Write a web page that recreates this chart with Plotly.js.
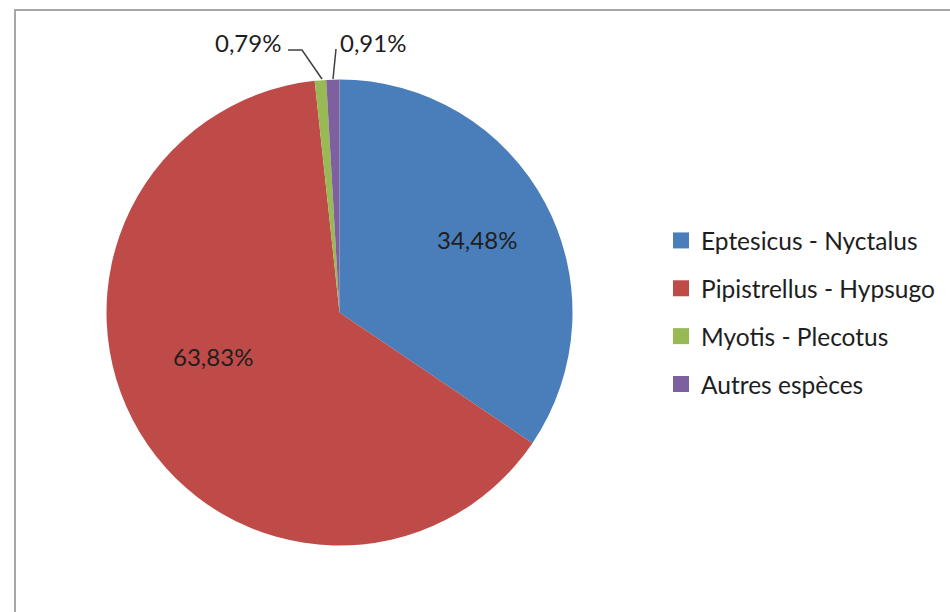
<!DOCTYPE html>
<html>
<head>
<meta charset="utf-8">
<script src="https://cdn.plot.ly/plotly-3.0.1.min.js"></script>
<style>
  html, body { margin: 0; padding: 0; background: #ffffff; }
  #chart { width: 950px; height: 612px; }
</style>
</head>
<body>
<div id="chart"></div>
<script>
// ---- data ----
const categories = ["Eptesicus - Nyctalus", "Pipistrellus - Hypsugo", "Myotis - Plecotus", "Autres espèces"];
const shares = [34.48, 63.83, 0.79, 0.91];
const colors = ["#4a7ebb", "#be4b48", "#98b954", "#7d60a0"];

// ---- helpers (pixel -> paper) ----
const W = 950, H = 612;
const px = v => v / W;
const py = v => 1 - v / H;
const fmt = v => v.toFixed(2).replace('.', ',') + '%';

const FONT = "Lato, 'Open Sans', sans-serif";
const TXT = "#1e1e1e";

const pie = {
  type: 'pie',
  labels: categories,
  values: shares,
  sort: false,
  direction: 'clockwise',
  rotation: 0,
  marker: { colors: colors, line: { width: 0 } },
  textinfo: 'none',
  hoverinfo: 'label+percent',
  showlegend: false,
  domain: { x: [px(106.5), px(572.5)], y: [py(545.5), py(79.5)] }
};

// legend entries (one per category, own group for spacing)
const legendTraces = categories.map((c, i) => ({
  type: 'scatter',
  x: [null], y: [null],
  mode: 'markers',
  name: c,
  legendgroup: 'g' + i,
  marker: { symbol: 'square', size: 16, color: colors[i] },
  hoverinfo: 'skip'
}));

// label positions (text placement only)
const labelPos = [
  [477, 240],
  [213, 356],
  [248, 43],
  [373, 43]
];

const annotations = shares.map((v, i) => ({
  xref: 'paper', yref: 'paper',
  x: px(labelPos[i][0]), y: py(labelPos[i][1]),
  xanchor: 'center', yanchor: 'middle',
  text: fmt(v),
  showarrow: false,
  font: { family: FONT, size: 24, color: TXT }
}));

const shapes = [
  // chart border (clipped on right/bottom)
  { type: 'rect', xref: 'paper', yref: 'paper',
    x0: px(15), y0: py(640), x1: px(990), y1: py(10),
    line: { color: '#a6a6a6', width: 2 }, fillcolor: 'rgba(0,0,0,0)' },
  // leader lines
  { type: 'path', xref: 'paper', yref: 'paper',
    path: `M ${px(288)} ${py(50)} L ${px(302)} ${py(50)} L ${px(322)} ${py(79)}`,
    line: { color: '#404040', width: 1.5 } },
  { type: 'path', xref: 'paper', yref: 'paper',
    path: `M ${px(336)} ${py(49)} L ${px(333)} ${py(79)}`,
    line: { color: '#404040', width: 1.5 } }
];

const layout = {
  width: W, height: H,
  margin: { l: 0, r: 0, t: 0, b: 0 },
  paper_bgcolor: '#ffffff',
  plot_bgcolor: 'rgba(0,0,0,0)',
  xaxis: { visible: false, fixedrange: true },
  yaxis: { visible: false, fixedrange: true },
  showlegend: true,
  legend: {
    x: px(661), y: py(218), xanchor: 'left', yanchor: 'top',
    traceorder: 'grouped',
    tracegroupgap: 13,
    font: { family: FONT, size: 24.5, color: TXT },
    bgcolor: 'rgba(0,0,0,0)'
  },
  annotations: annotations,
  shapes: shapes
};

Plotly.newPlot('chart', [pie].concat(legendTraces), layout, { displayModeBar: false, staticPlot: true });
</script>
</body>
</html>
